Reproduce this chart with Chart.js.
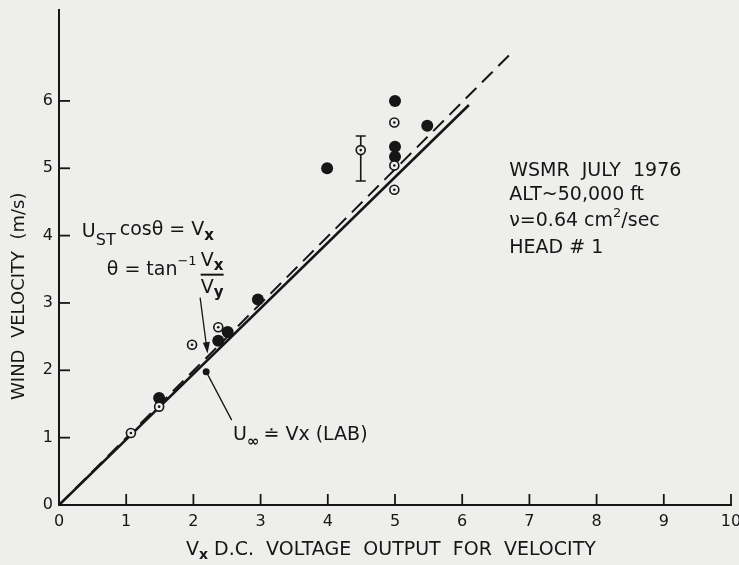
<!DOCTYPE html>
<html>
<head>
<meta charset="utf-8">
<script src="https://cdn.jsdelivr.net/npm/chart.js@4.4.0/dist/chart.umd.min.js"></script>
<style>
  html, body { margin: 0; padding: 0; background: #eeeeec; }
  #wrap { width: 739px; height: 565px; }
</style>
</head>
<body>
<div id="wrap"><canvas id="windChart" width="739" height="565"></canvas></div>
<script>
// data
const solidX = [0, 6.1];
const solidY = [0, 5.94];
const dashX = [0, 6.7];
const dashY = [0, 6.68];

const filledX = [1.49, 2.37, 2.51, 2.96, 3.99, 5.0, 5.0, 5.0, 5.48];
const filledY = [1.59, 2.44, 2.57, 3.05, 5.0, 6.0, 5.32, 5.17, 5.63];

const openX = [1.07, 1.49, 1.98, 2.37, 4.49, 4.99, 4.99, 4.99];
const openY = [1.07, 1.46, 2.38, 2.64, 5.27, 5.68, 5.04, 4.68];

// error bar on the open point at 4.5
const errX = [4.49];
const errLo = [4.81];
const errHi = [5.48];

const xTicks = [0, 1, 2, 3, 4, 5, 6, 7, 8, 9, 10];
const yTicks = [0, 1, 2, 3, 4, 5, 6];

const ink = '#161616';
const paper = '#eeeeec';
const font = '"DejaVu Sans", sans-serif';

const pts = (xs, ys) => xs.map((x, i) => ({ x: x, y: ys[i] }));

// draws ticks inside, error bar, notes, and axis titles
const extras = {
  id: 'extras',
  beforeDraw(chart) {
    const c = chart.ctx;
    c.save();
    c.fillStyle = paper;
    c.fillRect(0, 0, chart.width, chart.height);
    c.restore();
  },
  afterDraw(chart) {
    const c = chart.ctx;
    const xs = chart.scales.x, ys = chart.scales.y;
    const px = (x) => xs.getPixelForValue(x);
    const py = (y) => ys.getPixelForValue(y);
    c.save();
    c.strokeStyle = ink;
    c.fillStyle = ink;
    c.lineWidth = 1.8;

    // inside tick marks
    xTicks.forEach(v => {
      if (v === 0) return;
      c.beginPath();
      c.moveTo(px(v), py(0));
      c.lineTo(px(v), py(0) - 11);
      c.stroke();
    });
    yTicks.forEach(v => {
      if (v === 0) return;
      c.beginPath();
      c.moveTo(px(0), py(v));
      c.lineTo(px(0) + 11, py(v));
      c.stroke();
    });

    // error bar
    c.lineWidth = 1.6;
    errX.forEach((x, i) => {
      const X = px(x), lo = py(errLo[i]), hi = py(errHi[i]);
      c.beginPath();
      c.moveTo(X, hi); c.lineTo(X, py(5.27) - 5);
      c.moveTo(X, py(5.27) + 5); c.lineTo(X, lo);
      c.moveTo(X - 5, hi); c.lineTo(X + 5, hi);
      c.moveTo(X - 5, lo); c.lineTo(X + 5, lo);
      c.stroke();
    });

    c.textBaseline = 'middle';
    c.textAlign = 'left';

    // formula notes
    let x0 = px(0.34), y0 = py(4.06);
    c.font = '19px ' + font;
    c.fillText('U', x0, y0);
    let w = c.measureText('U').width;
    c.font = '16px ' + font;
    c.fillText('ST', x0 + w, y0 + 9);
    w += c.measureText('ST').width + 4;
    c.font = '19px ' + font;
    c.fillText('cos\u03B8 = V', x0 + w, y0 - 2);
    w += c.measureText('cos\u03B8 = V').width;
    c.font = 'bold 15px ' + font;
    c.fillText('x', x0 + w, y0 + 5);

    x0 = px(0.71); y0 = py(3.49);
    c.font = '19px ' + font;
    c.fillText('\u03B8 = tan', x0, y0);
    w = c.measureText('\u03B8 = tan').width;
    c.font = '13px ' + font;
    c.fillText('\u22121', x0 + w, y0 - 8);
    w += c.measureText('\u22121').width + 4;
    c.font = '19px ' + font;
    const fx = x0 + w;
    c.fillText('V', fx, py(3.62));
    c.fillText('V', fx, py(3.22));
    const vw = c.measureText('V').width;
    c.font = 'bold 15px ' + font;
    c.fillText('x', fx + vw, py(3.62) + 5);
    c.fillText('y', fx + vw, py(3.22) + 5);
    c.lineWidth = 2;
    c.beginPath();
    c.moveTo(fx, py(3.42)); c.lineTo(fx + vw + 10, py(3.42));
    c.stroke();

    // pointer to the dashed line
    c.lineWidth = 1.3;
    c.beginPath();
    c.moveTo(px(2.10), py(3.08)); c.lineTo(px(2.2), py(2.32));
    c.stroke();
    c.beginPath();
    c.moveTo(px(2.2) - 4, py(2.32) - 6);
    c.lineTo(px(2.2) + 3, py(2.32) - 7);
    c.lineTo(px(2.21), py(2.25));
    c.fill();

    // pointer to the solid line
    c.beginPath();
    c.moveTo(px(2.57), py(1.26)); c.lineTo(px(2.19), py(1.98));
    c.stroke();
    c.beginPath();
    c.arc(px(2.19), py(1.98), 3.5, 0, Math.PI * 2);
    c.fill();

    x0 = px(2.59); y0 = py(1.04);
    c.font = '19px ' + font;
    c.fillText('U', x0, y0);
    w = c.measureText('U').width;
    c.font = 'bold 15px ' + font;
    c.fillText('\u221E', x0 + w, y0 + 7);
    w += c.measureText('\u221E').width + 4;
    c.font = '19px ' + font;
    c.fillText('\u2250 Vx (LAB)', x0 + w, y0);

    // run notes
    x0 = px(6.7);
    c.font = '19px ' + font;
    c.fillText('WSMR  JULY  1976', x0, py(4.96));
    c.fillText('ALT~50,000 ft', x0, py(4.6));
    c.fillText('\u03BD=0.64 cm', x0, py(4.22));
    w = c.measureText('\u03BD=0.64 cm').width;
    c.font = '13px ' + font;
    c.fillText('2', x0 + w, py(4.22) - 7);
    w += c.measureText('2').width;
    c.font = '19px ' + font;
    c.fillText('/sec', x0 + w, py(4.22));
    c.fillText('HEAD # 1', x0, py(3.81));

    // axis titles
    c.font = '18px ' + font;
    c.save();
    c.translate(19, py(3.1));
    c.rotate(-Math.PI / 2);
    c.textAlign = 'center';
    c.fillText('WIND  VELOCITY  (m/s)', 0, 0);
    c.restore();

    x0 = 186; y0 = 550;
    c.font = '19px ' + font;
    c.fillText('V', x0, y0);
    w = c.measureText('V').width;
    c.font = 'bold 14px ' + font;
    c.fillText('x', x0 + w, y0 + 5);
    w += c.measureText('x').width + 6;
    c.font = '19px ' + font;
    c.fillText('D.C.  VOLTAGE  OUTPUT  FOR  VELOCITY', x0 + w, y0);

    c.restore();
  }
};

new Chart(document.getElementById('windChart'), {
  type: 'scatter',
  data: {
    datasets: [
      {
        label: 'U\u221E = Vx (LAB)',
        data: pts(solidX, solidY),
        showLine: true,
        borderColor: ink,
        borderWidth: 2.6,
        pointRadius: 0,
        order: 4
      },
      {
        label: 'UST cos\u03B8 = Vx',
        data: pts(dashX, dashY),
        showLine: true,
        borderColor: ink,
        borderWidth: 2,
        borderDash: [15, 8],
        pointRadius: 0,
        order: 3
      },
      {
        label: 'filled',
        data: pts(filledX, filledY),
        pointRadius: 6,
        pointBackgroundColor: ink,
        pointBorderColor: ink,
        pointBorderWidth: 0,
        order: 2
      },
      {
        label: 'open',
        data: pts(openX, openY),
        pointRadius: 4.5,
        pointBackgroundColor: paper,
        pointBorderColor: ink,
        pointBorderWidth: 1.6,
        order: 1
      },
      {
        label: 'open centre',
        data: pts(openX, openY),
        pointRadius: 1.3,
        pointBackgroundColor: ink,
        pointBorderWidth: 0,
        order: 0
      }
    ]
  },
  options: {
    responsive: false,
    animation: false,
    layout: { padding: { top: 10, right: 8, left: 0, bottom: 0 } },
    plugins: {
      legend: { display: false },
      tooltip: { enabled: false }
    },
    scales: {
      x: {
        type: 'linear',
        min: 0,
        max: 10,
        afterFit: s => { s.height = 60; s.paddingLeft = 0; s.paddingRight = 0; },
        afterBuildTicks: s => { s.ticks = xTicks.map(v => ({ value: v })); },
        grid: { display: false, drawTicks: false },
        border: { color: ink, width: 2 },
        ticks: { color: ink, font: { family: font, size: 16 }, padding: 7 }
      },
      y: {
        type: 'linear',
        min: 0,
        max: 7.35,
        afterFit: s => { s.width = 59; s.paddingTop = 0; s.paddingBottom = 0; },
        afterBuildTicks: s => { s.ticks = yTicks.map(v => ({ value: v })); },
        grid: { display: false, drawTicks: false },
        border: { color: ink, width: 2 },
        ticks: { color: ink, font: { family: font, size: 16 }, padding: 6 }
      }
    }
  },
  plugins: [extras]
});
</script>
</body>
</html>
